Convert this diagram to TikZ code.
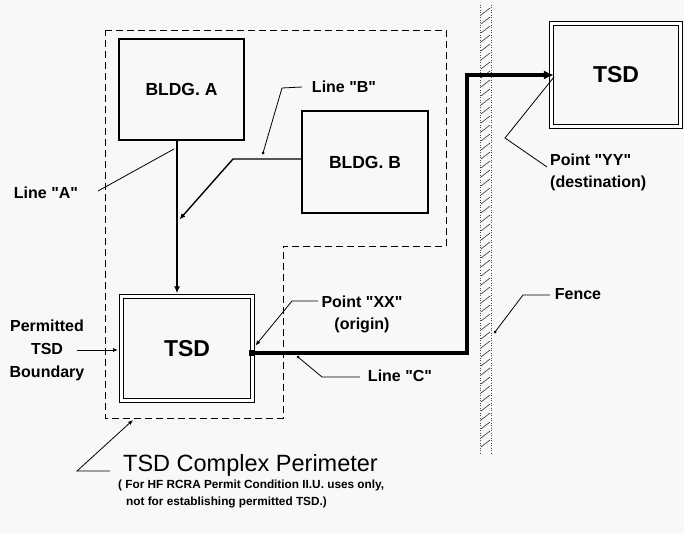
\documentclass[tikz,border=0pt]{standalone}
\usepackage{fontspec}
\setmainfont{Liberation Sans}[Ligatures=TeXOff]
\usetikzlibrary{arrows.meta,calc}
\definecolor{paper}{HTML}{F8F8F8}
\begin{document}
\begin{tikzpicture}[x=1pt,y=-1pt,
  bldg/.style={draw,line width=1.1pt,inner sep=0pt,font=\fontsize{17.5}{20}\selectfont\bfseries},
  tsdbox/.style={draw,double,line width=1.1pt,double distance=3pt,inner sep=0pt,
    font=\fontsize{23}{26}\selectfont\bfseries},
  perim/.style={line width=0.9pt,dash pattern=on 7pt off 4pt},
  flow/.style={line width=1.8pt},
  flowthin/.style={line width=1.4pt},
  linec/.style={line width=3.6pt},
  leader/.style={line width=0.8pt},
  lbl/.style={inner sep=0pt,font=\fontsize{16}{22}\selectfont\bfseries},
  dotend/.style={fill,circle,inner sep=0pt,minimum size=3pt},
  hatch/.style={line width=0.6pt,black!80},
  fenceedge/.style={line width=0.5pt,dotted,black!70}]
\fill[paper] (0,0) rectangle (684,534);
\useasboundingbox (0,0) rectangle (684,534);

% complex perimeter (dashed, stepped outline)
\draw[perim] (105,30) -- (446,30) -- (446,246) -- (283,246) -- (283,418) -- (105,418) -- cycle;

% buildings and treatment/storage/disposal units
\node[bldg,minimum width=125pt,minimum height=101pt] (bldgA) at (181.5,89.5) {BLDG. A};
\node[bldg,minimum width=126pt,minimum height=102pt] (bldgB) at (365,162) {BLDG. B};
\node[tsdbox,minimum width=131pt,minimum height=104pt] (tsdO) at (187,348.5) {TSD};
\node[tsdbox,minimum width=129pt,minimum height=103pt] (tsdD) at (616,75) {TSD};

% fence
\draw[fenceedge] (480,5) -- (480,454);
\draw[fenceedge] (491,5) -- (491,454);
\foreach \y in {8,17,...,446} \draw[hatch] (481,\y+7) -- (490,\y);

% line A
\coordinate (xA) at (177,0);
\draw[flow,-{Latex[length=7pt,width=6pt]}] (bldgA.south -| xA) -- ($(tsdO.north -| xA)+(0,-2.6)$);

% line B
\coordinate (bB) at (233,159);
\coordinate (jB) at (179.5,219.5);
\draw[flowthin,-{Latex[length=6pt,width=5pt]}] (bldgB.west |- bB) -- (bB) -- (jB);

% line C from point XX to point YY
\coordinate (xx) at (252,353);
\coordinate (c2) at (467,75);
\coordinate (yy) at ($(tsdD.west)+(3,0)$);
\draw[linec,-{Latex[length=10pt,width=9pt]}] (xx) -- (xx -| c2) -- (c2) -- (yy);
\node[fill,minimum size=6pt,inner sep=0pt] (xxmark) at (xx) {};

% labels
\node[lbl] (lblA) at (46,193) {Line "A"};
\coordinate (lA0) at (98,191);
\coordinate (lA1) at (174,149);
\draw[leader] (lA0) -- (lA1);

\node[lbl] (lblB) at (344,87) {Line "B"};
\coordinate (lB0) at (302,87);
\coordinate (lB1) at (282,88);
\coordinate (lB2) at (263,153);
\draw[leader] (lB0) -- (lB1) -- (lB2);
\node[dotend] (lBdot) at (lB2) {};

\node[lbl,align=center] (lblXX) at (362,314) {Point "XX"\\(origin)};
\coordinate (lX0) at (318,301);
\coordinate (lX1) at (292,301);
\coordinate (lX2) at (255.5,345.5);
\draw[leader,-{Latex[length=5pt,width=4pt]}] (lX0) -- (lX1) -- (lX2);

\node[lbl] (lblC) at (400,376) {Line "C"};
\coordinate (lC0) at (360,377);
\coordinate (lC1) at (322,377);
\coordinate (lC2) at (298,357);
\draw[leader] (lC0) -- (lC1) -- (lC2);
\node[dotend] (lCdot) at (lC2) {};

\node[lbl,align=left,anchor=west] (lblYY) at (550,172) {Point "YY"\\(destination)};
\coordinate (lY0) at (547,167);
\coordinate (lY1) at (505,138);
\coordinate (lY2) at (554,77);
\draw[leader] (lY0) -- (lY1) -- (lY2);

\node[lbl] (lblF) at (578,294) {Fence};
\coordinate (lF0) at (550,295);
\coordinate (lF1) at (523,295);
\coordinate (lF2) at (495,332);
\draw[leader] (lF0) -- (lF1) -- (lF2);
\node[dotend] (lFdot) at (lF2) {};

\node[lbl,align=center,font=\fontsize{16}{23}\selectfont\bfseries] (lblP) at (47,350) {Permitted\\TSD\\Boundary};
\coordinate (lP0) at (77,350);
\coordinate (lP1) at (118,350);
\draw[leader,-{Latex[length=5pt,width=4pt]}] (lP0) -- (lP1);

\node[inner sep=0pt,anchor=west,font=\fontsize{23.5}{26}\selectfont] (title) at (123,465) {TSD Complex Perimeter};
\coordinate (lT0) at (110,471);
\coordinate (lT1) at (77,471);
\coordinate (lT2) at (133,420);
\draw[leader,-{Latex[length=5pt,width=4pt]}] (lT0) -- (lT1) -- (lT2);

\node[inner sep=0pt,anchor=west,font=\fontsize{11.8}{17}\selectfont\bfseries] (capA) at (118,485) {( For HF RCRA Permit Condition II.U. uses only,};
\node[inner sep=0pt,anchor=west,font=\fontsize{11.8}{17}\selectfont\bfseries] (capB) at (126,502) {not for establishing permitted TSD.)};
\end{tikzpicture}
\end{document}
